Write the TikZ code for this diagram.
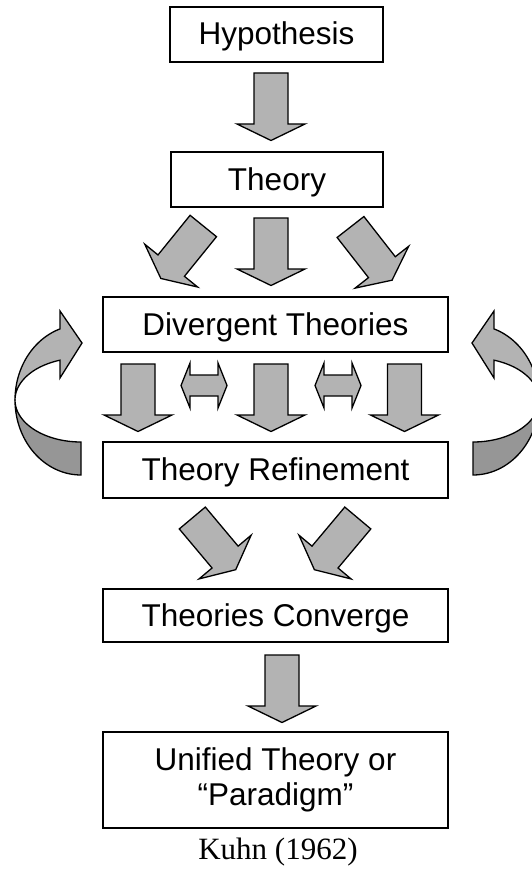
\documentclass[tikz,border=0pt]{standalone}
\usepackage{fontspec}
\setmainfont{Liberation Serif}
\newfontfamily\boxfont{Liberation Sans}
\definecolor{arrowgray}{RGB}{179,179,179}
\definecolor{darkband}{RGB}{150,150,150}
\tikzset{
  box/.style={draw=black, line width=1.8pt, fill=white, inner sep=0pt,
    minimum width=345pt, minimum height=55pt,
    font=\boxfont\fontsize{31.5}{35}\selectfont, text height=21pt, text depth=0pt},
  arrowshape/.style={draw=black, fill=arrowgray, line width=1.3pt, line join=miter},
  bandlight/.style={draw=black, fill=arrowgray, line width=1.3pt, line join=miter},
  banddark/.style={draw=black, fill=darkband, line width=1.3pt, line join=miter},
  pics/blockarrow/.style={code={
    \path[arrowshape] (-17,0) -- (17,0) -- (17,51) -- (34,51) -- (0,67.5) -- (-34,51) -- (-17,51) -- cycle;}},
  pics/dblarrow/.style={code={
    \path[arrowshape] (-23,0) -- (-14,-22.5) -- (-14,-10.5) -- (14,-10.5) -- (14,-22.5) -- (23,0)
      -- (14,22.5) -- (14,10.5) -- (-14,10.5) -- (-14,22.5) -- cycle;}}
}
\begin{document}
\begin{tikzpicture}[x=1pt,y=-1pt]
\clip (0,0) rectangle (532,869);
\fill[white] (0,0) rectangle (532,869);

% boxes
\node[box, minimum width=213pt] (hyp) at (276.5,34.5) {Hypothesis};
\node[box, minimum width=212pt] (theory) at (277,179.5) {Theory};
\node[box] (div) at (275.5,324.5) {Divergent Theories};
\node[box, minimum height=56pt] (refine) at (275.5,470) {Theory Refinement};
\node[box, minimum height=53pt] (conv) at (275.5,615.5) {Theories Converge};
\node[box, minimum height=96pt, align=center, text height=, text depth=] (unified) at (275.5,780)
  {Unified Theory or\\“Paradigm”};
\node[font=\fontsize{31}{35}\selectfont, anchor=base, inner sep=0pt] (kuhn) at (278,859) {Kuhn (1962)};

% block arrows
\pic at (271,73) {blockarrow};
\pic[rotate=-39] at (203.3,226) {blockarrow};
\pic at (271,218) {blockarrow};
\pic[rotate=38] at (350.5,227) {blockarrow};

\pic at (138,364) {blockarrow};
\pic at (271,364) {blockarrow};
\pic at (404.5,364) {blockarrow};
\pic at (204,385.5) {dblarrow};
\pic at (338,385.5) {dblarrow};

\pic[rotate=40] at (192.3,518) {blockarrow};
\pic[rotate=-40] at (357.8,518) {blockarrow};

\pic at (282,655) {blockarrow};

% left curved arrow
\path[banddark] plot[domain=180:90,samples=40] ({81+66*cos(\x)},{400+75*sin(\x)})
  -- plot[domain=90:180,samples=40] ({81+66*cos(\x)},{400+42*sin(\x)}) -- cycle;
\path[bandlight] plot[domain=180:251.5,samples=40] ({81+66*cos(\x)},{400+75*sin(\x)})
  -- (60,311) -- (82,343) -- (60,378)
  -- plot[domain=251.5:180,samples=40] ({81+66*cos(\x)},{400+42*sin(\x)}) -- cycle;

% right curved arrow
\path[banddark] plot[domain=180:90,samples=40] ({473-66*cos(\x)},{400+75*sin(\x)})
  -- plot[domain=90:180,samples=40] ({473-66*cos(\x)},{400+42*sin(\x)}) -- cycle;
\path[bandlight] plot[domain=180:251.5,samples=40] ({473-66*cos(\x)},{400+75*sin(\x)})
  -- (494,311) -- (472,343) -- (494,378)
  -- plot[domain=251.5:180,samples=40] ({473-66*cos(\x)},{400+42*sin(\x)}) -- cycle;
\end{tikzpicture}
\end{document}
